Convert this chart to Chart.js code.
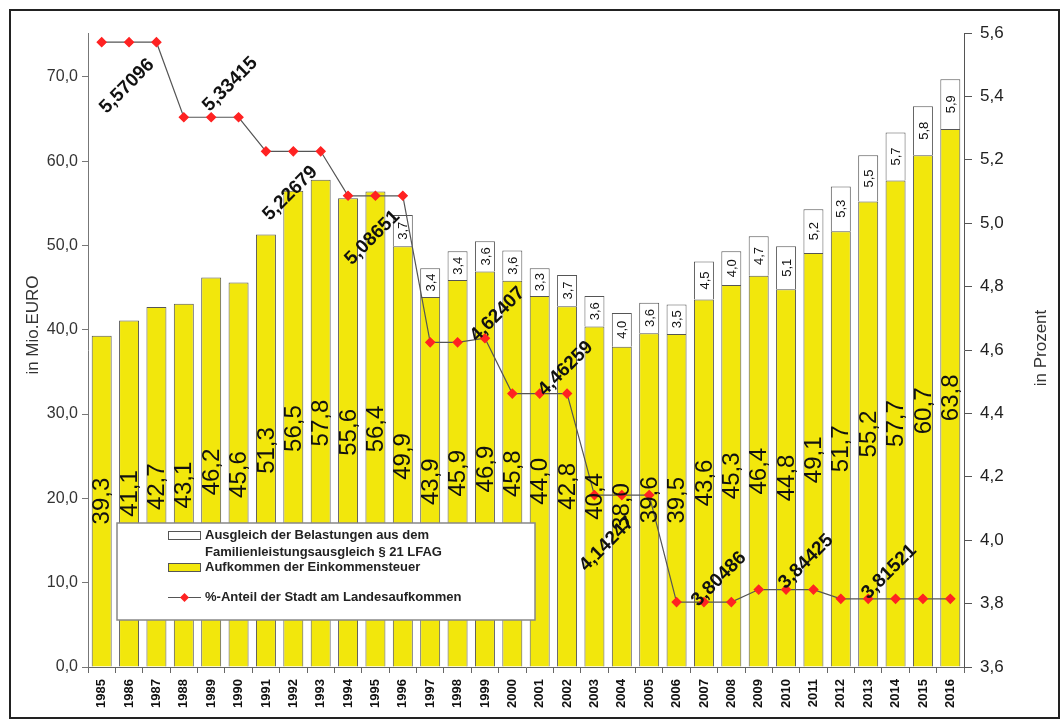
<!DOCTYPE html>
<html>
<head>
<meta charset="utf-8">
<script src="https://cdn.jsdelivr.net/npm/chart.js@4"></script>
<style>
  body { margin: 0; background: #fff; }
  #wrap { width: 1062px; height: 724px; }
</style>
</head>
<body>
<div id="wrap"><canvas id="steuerChart" width="1062" height="724"></canvas></div>
<script>
// Data
const years = ['1985', '1986', '1987', '1988', '1989', '1990', '1991', '1992', '1993', '1994', '1995',
  '1996', '1997', '1998', '1999', '2000', '2001', '2002', '2003', '2004', '2005', '2006',
  '2007', '2008', '2009', '2010', '2011', '2012', '2013', '2014', '2015', '2016'];

const einkommensteuer = [39.3, 41.1, 42.7, 43.1, 46.2, 45.6, 51.3, 56.5, 57.8, 55.6, 56.4,
  49.9, 43.9, 45.9, 46.9, 45.8, 44.0, 42.8, 40.4, 38.0, 39.6, 39.5,
  43.6, 45.3, 46.4, 44.8, 49.1, 51.7, 55.2, 57.7, 60.7, 63.8];

const ausgleich = [null, null, null, null, null, null, null, null, null, null, null,
  3.7, 3.4, 3.4, 3.6, 3.6, 3.3, 3.7, 3.6, 4.0, 3.6, 3.5,
  4.5, 4.0, 4.7, 5.1, 5.2, 5.3, 5.5, 5.7, 5.8, 5.9];

const anteil = [5.57096, 5.57096, 5.57096, 5.33415, 5.33415, 5.33415, 5.22679, 5.22679, 5.22679,
  5.08651, 5.08651, 5.08651, 4.62407, 4.62407, 4.637, 4.46259, 4.46259, 4.46259,
  4.14247, 4.14247, 4.14247, 3.80486, 3.80486, 3.80486, 3.84425, 3.84425, 3.84425,
  3.81521, 3.81521, 3.81521, 3.81521, 3.81521];

const leftTicks = [0, 10, 20, 30, 40, 50, 60, 70];
const rightTicks = [3.6, 3.8, 4.0, 4.2, 4.4, 4.6, 4.8, 5.0, 5.2, 5.4, 5.6];

// which points of the line carry a value label
const lineLabelIdx = [1, 4, 7, 10, 13, 16, 19, 22, 25, 28];
const lineLabelShift = [[-2, 44], [19, -33], [-3, 42], [-3, 42], [40, -28], [26, -25], [-15, 49], [15, -23], [20, -28], [21, -27]];

const deComma = (v, d) => v.toFixed(d).replace('.', ',');

// white page with frame
const framePlugin = {
  id: 'frame',
  beforeDraw(chart) {
    const c = chart.ctx;
    c.save();
    c.fillStyle = '#fff';
    c.fillRect(0, 0, chart.width, chart.height);
    c.strokeStyle = '#222';
    c.lineWidth = 2;
    c.strokeRect(10, 10, 1049, 708);
    c.restore();
  },
  afterDraw(chart) {
    const c = chart.ctx;
    c.save();
    c.fillStyle = '#333';
    c.font = '17px Arial, "Liberation Sans"';
    c.textAlign = 'center';
    c.textBaseline = 'middle';
    c.translate(33, 325);
    c.rotate(-Math.PI / 2);
    c.fillText('in Mio.EURO', 0, 0);
    c.restore();
    c.save();
    c.fillStyle = '#333';
    c.font = '17px Arial, "Liberation Sans"';
    c.textAlign = 'center';
    c.textBaseline = 'middle';
    c.translate(1041, 348);
    c.rotate(-Math.PI / 2);
    c.fillText('in Prozent', 0, 0);
    c.restore();
  }
};

// values inside the bars and next to the line
const labelPlugin = {
  id: 'valueLabels',
  afterDatasetsDraw(chart) {
    const c = chart.ctx;
    c.save();
    c.fillStyle = '#111';
    c.textAlign = 'center';
    c.textBaseline = 'middle';

    chart.getDatasetMeta(0).data.forEach((bar, i) => {
      const cy = (bar.y + bar.base) / 2;
      c.save();
      c.font = '24px Arial, "Liberation Sans"';
      c.translate(bar.x, cy);
      c.rotate(-Math.PI / 2);
      c.fillText(deComma(einkommensteuer[i], 1), 0, 1);
      c.restore();
    });

    chart.getDatasetMeta(1).data.forEach((bar, i) => {
      if (ausgleich[i] == null) return;
      const cy = (bar.y + bar.base) / 2;
      c.save();
      c.font = '13px Arial, "Liberation Sans"';
      c.translate(bar.x, cy);
      c.rotate(-Math.PI / 2);
      c.fillText(deComma(ausgleich[i], 1), 0, 1);
      c.restore();
    });

    const pts = chart.getDatasetMeta(2).data;
    lineLabelIdx.forEach((idx, k) => {
      const p = pts[idx];
      c.save();
      c.font = 'bold 19px Arial, "Liberation Sans"';
      c.translate(p.x + lineLabelShift[k][0], p.y + lineLabelShift[k][1]);
      c.rotate(-Math.PI / 4);
      c.fillText(deComma(anteil[idx], 5), 0, 0);
      c.restore();
    });
    c.restore();
  }
};

// legend box like the original
const legendPlugin = {
  id: 'boxLegend',
  afterDraw(chart) {
    const c = chart.ctx;
    const ds = chart.data.datasets;
    c.save();
    c.fillStyle = '#fff';
    c.fillRect(117, 523, 418, 97);
    c.strokeStyle = '#888';
    c.lineWidth = 1.5;
    c.strokeRect(117, 523, 418, 97);

    c.font = 'bold 13px Arial, "Liberation Sans"';
    c.textBaseline = 'middle';
    c.textAlign = 'left';

    // white bar
    c.fillStyle = '#fff';
    c.fillRect(168, 531, 32, 8);
    c.strokeStyle = '#555';
    c.lineWidth = 1;
    c.strokeRect(168.5, 531.5, 32, 8);
    c.fillStyle = '#222';
    c.fillText('Ausgleich der Belastungen aus dem', 205, 535);
    c.fillText('Familienleistungsausgleich § 21 LFAG', 205, 552);

    // yellow bar
    c.fillStyle = ds[0].backgroundColor;
    c.fillRect(168, 563, 32, 8);
    c.strokeRect(168.5, 563.5, 32, 8);
    c.fillStyle = '#222';
    c.fillText(ds[0].label, 205, 567);

    // line
    c.strokeStyle = '#555';
    c.beginPath();
    c.moveTo(168, 597.5);
    c.lineTo(201, 597.5);
    c.stroke();
    c.fillStyle = '#f22';
    c.beginPath();
    c.moveTo(184.5, 593);
    c.lineTo(189, 597.5);
    c.lineTo(184.5, 602);
    c.lineTo(180, 597.5);
    c.closePath();
    c.fill();
    c.fillStyle = '#222';
    c.fillText(ds[2].label, 205, 597);
    c.restore();
  }
};

function initializeSteuerChart() {
  const ctx = document.getElementById('steuerChart');
  if (!ctx) return;

  new Chart(ctx, {
    type: 'bar',
    data: {
      labels: years,
      datasets: [
        {
          label: 'Aufkommen der Einkommensteuer',
          data: einkommensteuer,
          backgroundColor: '#F2E70C',
          borderColor: '#555',
          borderWidth: 1,
          stack: 's',
          yAxisID: 'y',
          order: 1
        },
        {
          label: 'Ausgleich der Belastungen aus dem Familienleistungsausgleich § 21 LFAG',
          data: ausgleich,
          backgroundColor: '#fff',
          borderColor: '#555',
          borderWidth: 1,
          stack: 's',
          yAxisID: 'y',
          order: 1
        },
        {
          type: 'line',
          label: '%-Anteil der Stadt am Landesaufkommen',
          data: anteil,
          borderColor: '#555',
          borderWidth: 1.2,
          pointStyle: 'rectRot',
          pointRadius: 4.5,
          pointBackgroundColor: '#f22',
          pointBorderColor: '#f22',
          tension: 0,
          yAxisID: 'y1',
          order: 0
        }
      ]
    },
    options: {
      responsive: false,
      animation: false,
      layout: {
        padding: { top: 33, left: 0, right: 0, bottom: 0 }
      },
      datasets: {
        bar: { categoryPercentage: 1, barPercentage: 0.73 }
      },
      plugins: {
        legend: { display: false },
        tooltip: { enabled: false }
      },
      scales: {
        x: {
          stacked: true,
          offset: true,
          grid: { offset: true, drawOnChartArea: false, tickLength: 6, color: '#666' },
          border: { color: '#666' },
          ticks: {
            autoSkip: false,
            maxRotation: 90,
            minRotation: 90,
            padding: 6,
            color: '#111',
            font: { family: 'Arial, "Liberation Sans"', size: 13, weight: 'bold' }
          },
          afterFit(scale) {
            scale.height = 57;
            scale.paddingLeft = 0;
            scale.paddingRight = 0;
          }
        },
        y: {
          stacked: true,
          position: 'left',
          min: 0,
          max: 75.2,
          afterBuildTicks(scale) {
            scale.ticks = leftTicks.map(v => ({ value: v }));
          },
          grid: { drawOnChartArea: false, tickLength: 6, color: '#777' },
          border: { color: '#777' },
          ticks: {
            padding: 4,
            color: '#333',
            font: { family: 'Arial, "Liberation Sans"', size: 16 },
            callback: v => deComma(v, 1)
          },
          afterFit(scale) {
            scale.width = 88;
            scale.paddingTop = 0;
            scale.paddingBottom = 0;
          }
        },
        y1: {
          position: 'right',
          min: 3.6,
          max: 5.6,
          afterBuildTicks(scale) {
            scale.ticks = rightTicks.map(v => ({ value: v }));
          },
          grid: { drawOnChartArea: false, tickLength: 8, color: '#555' },
          border: { color: '#555' },
          ticks: {
            padding: 8,
            color: '#222',
            font: { family: 'Arial, "Liberation Sans"', size: 17 },
            callback: v => deComma(v, 1)
          },
          afterFit(scale) {
            scale.width = 98;
            scale.paddingTop = 0;
            scale.paddingBottom = 0;
          }
        }
      }
    },
    plugins: [framePlugin, labelPlugin, legendPlugin]
  });
}

document.addEventListener('DOMContentLoaded', () => {
  initializeSteuerChart();
});
</script>
</body>
</html>
